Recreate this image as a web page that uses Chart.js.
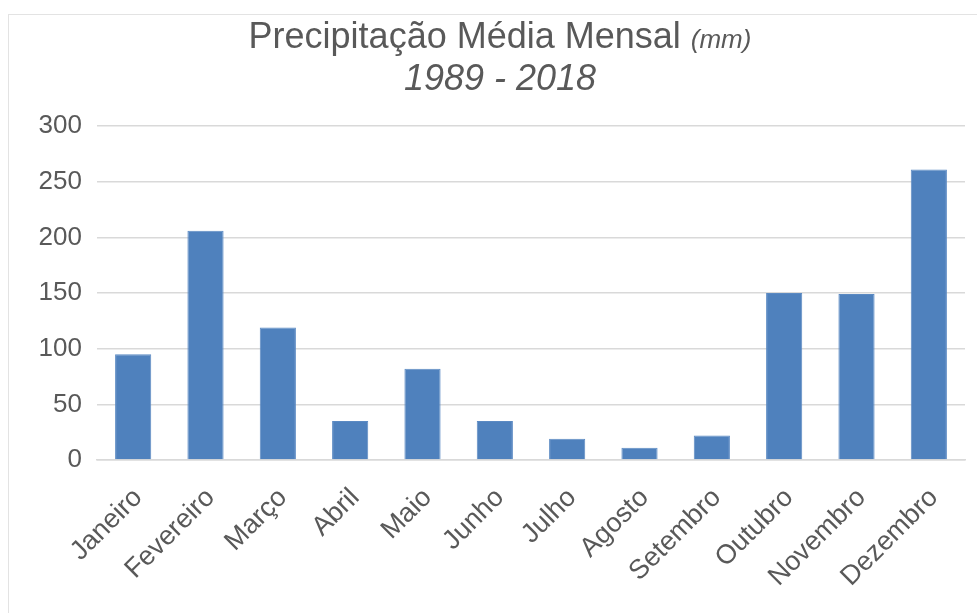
<!DOCTYPE html>
<html lang="pt">
<head>
<meta charset="utf-8">
<title>Precipitação Média Mensal</title>
<script src="https://cdn.jsdelivr.net/npm/chart.js@4/dist/chart.umd.min.js"></script>
<style>
  html, body { margin: 0; padding: 0; background: #fff; overflow: hidden; }
  #frame {
    position: absolute; left: 8px; top: 14px;
    width: 990px; height: 620px;
    border: 1px solid #e3e3e3;
  }
  #chartPrecip { display: block; }
</style>
</head>
<body>
<div id="frame">
  <canvas id="chartPrecip" width="982" height="598"></canvas>
</div>
<script>
// === DATA ===
const meses = ['Janeiro', 'Fevereiro', 'Março', 'Abril', 'Maio', 'Junho',
  'Julho', 'Agosto', 'Setembro', 'Outubro', 'Novembro', 'Dezembro'];
const precipitacao = [95, 206, 119, 35, 82, 35, 19, 11, 22, 150, 149, 261];
const yTicks = [0, 50, 100, 150, 200, 250, 300];

const tituloLinha1 = 'Precipitação Média Mensal';
const tituloUnidade = '(mm)';
const tituloLinha2 = '1989 - 2018';

const corTexto = '#595959';
const fonte = '"Liberation Sans", Arial, sans-serif';

/**
 * Draws the two-line title; the unit part is smaller and italic,
 * which the built-in title plugin can't mix on one line.
 */
const tituloPlugin = {
  id: 'tituloMisto',
  afterDraw(chart) {
    const ctx = chart.ctx;
    const cx = chart.width / 2;
    ctx.save();
    ctx.fillStyle = corTexto;
    ctx.textBaseline = 'alphabetic';
    ctx.textAlign = 'left';

    ctx.font = '36px ' + fonte;
    const w1 = ctx.measureText(tituloLinha1 + ' ').width;
    ctx.font = 'italic 26px ' + fonte;
    const w2 = ctx.measureText(tituloUnidade).width;
    let x = cx - (w1 + w2) / 2;
    ctx.font = '36px ' + fonte;
    ctx.fillText(tituloLinha1 + ' ', x, 33);
    ctx.font = 'italic 26px ' + fonte;
    ctx.fillText(tituloUnidade, x + w1, 33);

    ctx.font = 'italic 36px ' + fonte;
    ctx.textAlign = 'center';
    ctx.fillText(tituloLinha2, cx, 75);
    ctx.restore();
  }
};

const ctxP = document.getElementById('chartPrecip').getContext('2d');
const chartPrecip = new Chart(ctxP, {
  type: 'bar',
  data: {
    labels: meses,
    datasets: [{
      label: 'Precipitação (mm)',
      data: precipitacao,
      backgroundColor: '#4f81bd',
      borderColor: '#5b8ac3',
      borderWidth: 1,
      barPercentage: 0.5,
      categoryPercentage: 1
    }]
  },
  options: {
    responsive: false,
    animation: false,
    layout: { padding: { top: 111, right: 26, bottom: 0, left: 0 } },
    plugins: {
      legend: { display: false },
      title: { display: false },
      tooltip: { enabled: false }
    },
    scales: {
      y: {
        min: 0,
        max: 300,
        afterBuildTicks: s => { s.ticks = yTicks.map(v => ({ value: v })); },
        afterFit: s => { s.width = 88; },
        border: { display: false },
        grid: { color: '#d9d9d9', lineWidth: 1.5, drawTicks: false },
        ticks: { color: corTexto, padding: 15, font: { family: fonte, size: 26 } }
      },
      x: {
        afterFit: s => { s.height = 153; },
        border: { display: true, color: '#d9d9d9', width: 1.5 },
        grid: { display: false, drawTicks: false },
        ticks: {
          color: corTexto,
          padding: 22,
          labelOffset: 5,
          maxRotation: 45,
          minRotation: 45,
          autoSkip: false,
          font: { family: fonte, size: 27 }
        }
      }
    }
  },
  plugins: [tituloPlugin]
});
</script>
</body>
</html>
